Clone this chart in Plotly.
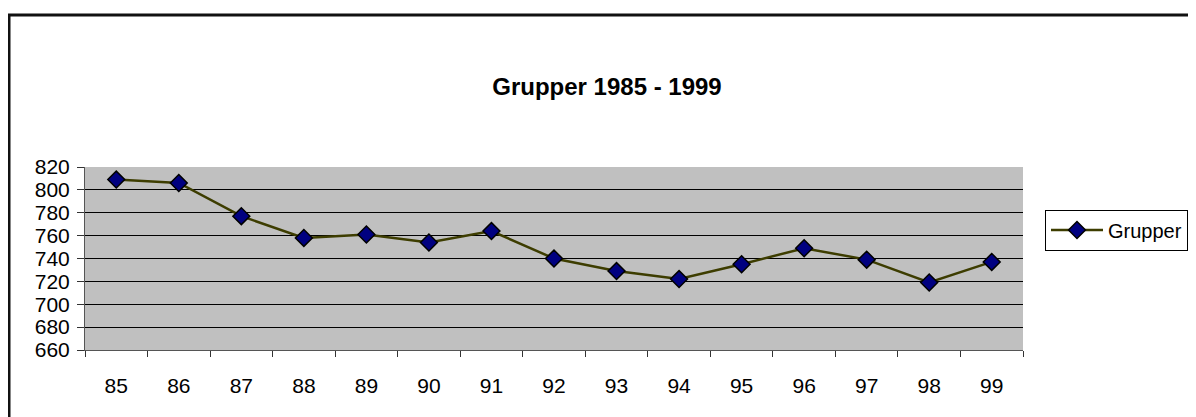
import plotly.graph_objects as go

years = ["85", "86", "87", "88", "89", "90", "91", "92", "93", "94", "95", "96", "97", "98", "99"]
grupper = [809, 806, 777, 758, 761, 754, 764, 740, 729, 722, 735, 749, 739, 719, 737]
y_ticks = [660, 680, 700, 720, 740, 760, 780, 800, 820]

# page body adds an 8px margin; work in window pixels and shift
OFF = 8
W, H = 1196 - OFF, 417 - OFF
PL, PR, PT, PB = 85, 1023, 167, 350  # plot area in window pixels
L, T = PL - OFF, PT - OFF
R, B = W - (PR - OFF), H - (PB - OFF)
pw, ph = W - L - R, H - T - B

def px_x(x):
    return (x - OFF - L) / pw

def px_y(y):
    return (H - B - (y - OFF)) / ph

FONT = "Arial, Liberation Sans, sans-serif"

fig = go.Figure()
fig.add_trace(go.Scatter(
    x=years, y=grupper, name="Grupper", mode="lines+markers",
    line=dict(color="#3d3d00", width=2.5),
    marker=dict(symbol="diamond", size=13, color="#000080",
                line=dict(color="#000000", width=1.5)),
))

fig.update_layout(
    width=W, height=H,
    margin=dict(l=L, r=R, t=T, b=B, autoexpand=False),
    paper_bgcolor="white", plot_bgcolor="#c0c0c0",
    font=dict(family=FONT, size=21, color="black"),
    title=dict(text="<b>Grupper 1985 - 1999</b>", x=px_x(607), xref="paper",
               xanchor="center", y=1 - (87 - OFF) / H, yref="container", yanchor="middle",
               font=dict(family=FONT, size=24, color="black")),
    showlegend=True,
    legend=dict(x=px_x(1045), y=px_y(230), xanchor="left", yanchor="middle",
                bordercolor="black", borderwidth=1, bgcolor="white",
                font=dict(family=FONT, size=20), itemwidth=52,
                tracegroupgap=0),
    xaxis=dict(type="category", range=[-0.5, len(years) - 0.5],
               tickson="boundaries", ticks="outside", ticklen=6,
               tickcolor="#333", showgrid=False, showline=True, linecolor="#555",
               linewidth=1, tickfont=dict(size=21), ticklabelstandoff=17,
               zeroline=False, fixedrange=True),
    yaxis=dict(range=[660, 820], tickvals=y_ticks, ticks="outside", ticklen=7,
               tickcolor="#333", showgrid=True, gridcolor="#000000", gridwidth=1,
               showline=True, linecolor="#555", linewidth=1,
               tickfont=dict(size=21), ticklabelstandoff=3, zeroline=False),
    shapes=[dict(type="rect", xref="paper", yref="paper",
                 x0=px_x(9), x1=px_x(1300), y0=px_y(500), y1=px_y(15),
                 line=dict(color="#111", width=3), fillcolor="rgba(0,0,0,0)",
                 layer="below")],
)

fig.write_html("out.html")
